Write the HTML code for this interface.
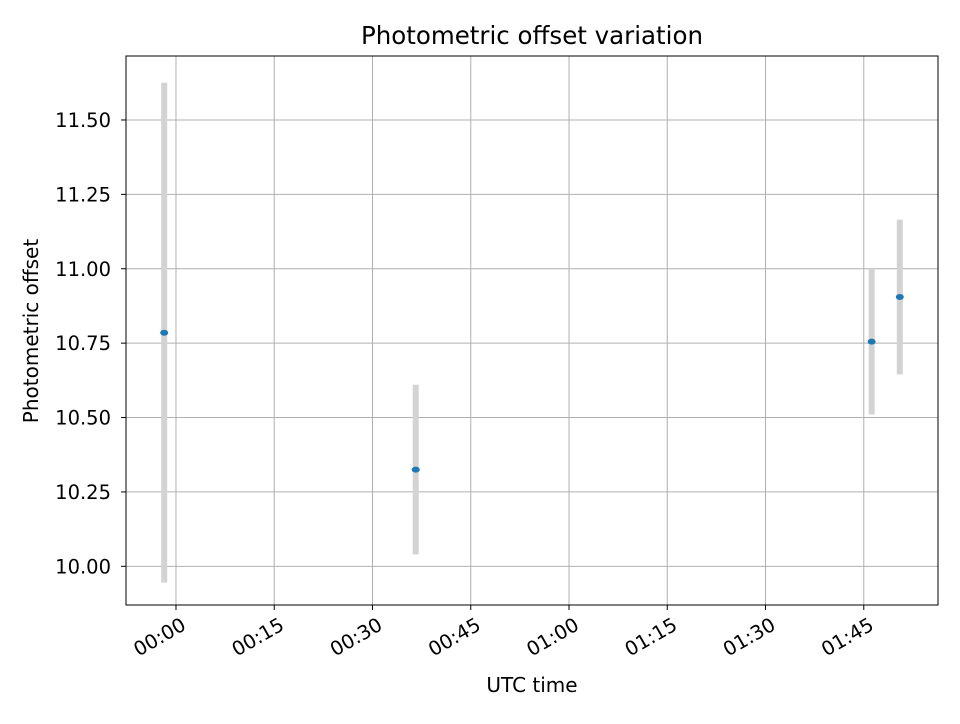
<!DOCTYPE html>
<html><head><meta charset="utf-8"><style>
body{margin:0;background:#fff;font-family:"DejaVu Sans","Liberation Sans",sans-serif;}
svg text{font-family:"DejaVu Sans","Liberation Sans",sans-serif;}
</style></head><body>
<svg id="chart" width="960" height="720" xmlns="http://www.w3.org/2000/svg">
<rect width="960" height="720" fill="#fff"/>
<g id="grid"></g><g id="bars"></g><g id="pts"></g><g id="axes"></g>
<text x="532" y="44" font-size="24.5" text-anchor="middle">Photometric offset variation</text>
<text x="532" y="692" font-size="20" text-anchor="middle">UTC time</text>
<text transform="translate(38,331) rotate(-90)" font-size="20" text-anchor="middle">Photometric offset</text>
</svg>
<script>
const times=[-1.8,36.6,106.2,110.5]; // minutes after 00:00
const values=[10.785,10.325,10.755,10.905];
const errors=[0.84,0.285,0.245,0.26];
const xTicks=[0,15,30,45,60,75,90,105];
const xTickLabels=["00:00","00:15","00:30","00:45","01:00","01:15","01:30","01:45"];
const yTicks=[10.0,10.25,10.5,10.75,11.0,11.25,11.5];
const yTickLabels=["10.00","10.25","10.50","10.75","11.00","11.25","11.50"];
const L=126,R=938,T=56,B=605;
const xMin=-7.63,xMax=116.33,yMin=9.87,yMax=11.715;
const X=v=>L+(v-xMin)/(xMax-xMin)*(R-L);
const Y=v=>B-(v-yMin)/(yMax-yMin)*(B-T);
const ns="http://www.w3.org/2000/svg";
function mk(p,tag,at){const e=document.createElementNS(ns,tag);for(const k in at)e.setAttribute(k,at[k]);document.getElementById(p).appendChild(e);return e;}
xTicks.forEach((t,i)=>{const x=X(t);
 let g=mk('grid','line',{x1:x,x2:x,y1:T,y2:B,stroke:'#b0b0b0','stroke-width':1});
 
 mk('axes','line',{x1:x,x2:x,y1:B,y2:B+5,stroke:'#000'});
 let tx=mk('axes','text',{x:0,y:0,'font-size':19.5,'text-anchor':'end',transform:`translate(${x+4},${B+11}) rotate(-30)`,dy:'0.75em'});
 tx.textContent=xTickLabels[i];
 
});
yTicks.forEach((t,i)=>{const y=Y(t);
 let g=mk('grid','line',{x1:L,x2:R,y1:y,y2:y,stroke:'#b0b0b0','stroke-width':1});
 
 mk('axes','line',{x1:L-5,x2:L,y1:y,y2:y,stroke:'#000'});
 let tx=mk('axes','text',{x:L-15,y:y+7,'font-size':19.5,'text-anchor':'end'});
 tx.textContent=yTickLabels[i];
 
});
let fr=mk('axes','rect',{x:L,y:T,width:R-L,height:B-T,fill:'none',stroke:'#000','stroke-width':1});

times.forEach((t,i)=>{const x=X(t);
 let b=mk('bars','line',{x1:x,x2:x,y1:Y(values[i]+errors[i]),y2:Y(values[i]-errors[i]),stroke:'#d3d3d3','stroke-width':6});
 
 let p=mk('pts','ellipse',{cx:x,cy:Y(values[i]),rx:4,ry:3,fill:'#1f77b4'});
 
});
</script>
</body></html>
